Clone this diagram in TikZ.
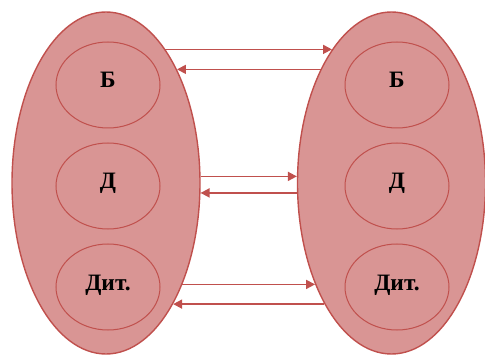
\documentclass[tikz,border=0pt]{standalone}
\usepackage{fontspec}
\setmainfont{Liberation Serif}
\usetikzlibrary{arrows.meta, positioning, shapes.geometric}

\definecolor{rosefill}{HTML}{D99594}
\definecolor{roseline}{HTML}{C0504D}

\begin{document}
\begin{tikzpicture}[
  x=1pt, y=1pt,
  node distance=14pt,
  group/.style={draw=roseline, fill=rosefill, ellipse, line width=1.4pt,
                minimum width=188pt, minimum height=342pt, inner sep=0pt},
  member/.style={draw=roseline, ellipse, line width=1pt, inner sep=0pt,
                 minimum width=104pt, minimum height=86pt,
                 font=\bfseries\fontsize{23.5}{28}\selectfont,
                 text height=6pt, text depth=0pt},
  arr/.style={-{Triangle[length=9pt, width=9pt]}, draw=roseline, fill=roseline,
              line width=1.7pt}
]
  \useasboundingbox (0,0) rectangle (485,354);

  % two groups
  \node[group] (left) at (106,171) {};
  \node[group] (right) at (391.5,171) {};

  % members of the left group
  \node[member] (lb) at (108,269) {Б};
  \node[member, below=of lb] (ld) {Д};
  \node[member, below=of ld] (ldit) {Дит.};

  % members of the right group
  \node[member] (rb) at (397,269) {Б};
  \node[member, below=of rb] (rd) {Д};
  \node[member, below=of rd] (rdit) {Дит.};

  % exchange between the groups
  \draw[arr] (left.66) -- (right.114);
  \draw[arr] (right.122) -- (left.58);
  \draw[arr] (left.4) -- (right.176);
  \draw[arr] (right.186) -- (left.-6);
  \draw[arr] (left.-53) -- (right.233);
  \draw[arr] (right.241) -- (left.-61);
\end{tikzpicture}
\end{document}
